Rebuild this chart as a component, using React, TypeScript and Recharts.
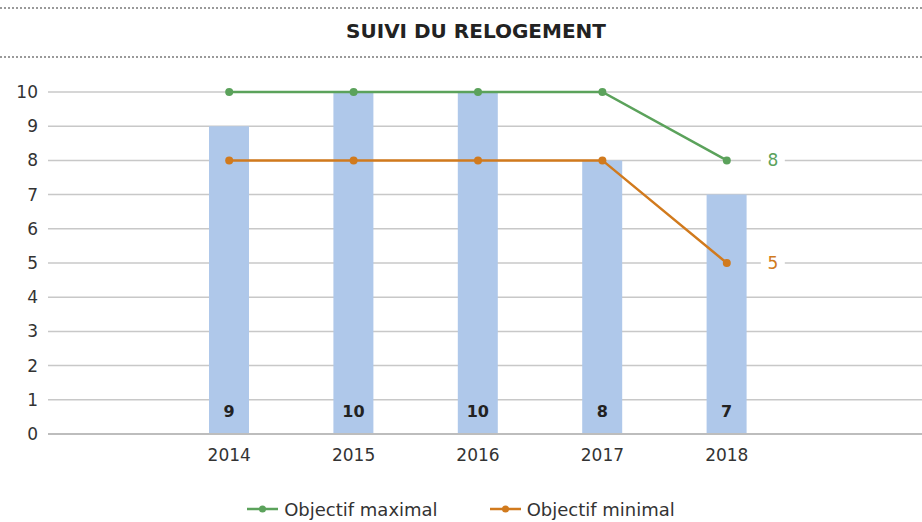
import React from 'react';
import { ComposedChart, Bar, Line, XAxis, YAxis, CartesianGrid, LabelList, Legend } from 'recharts';

const years = ['2014', '2015', '2016', '2017', '2018'];
const relogements = [9, 10, 10, 8, 7];
const objectifMax = [10, 10, 10, 10, 8];
const objectifMin = [8, 8, 8, 8, 5];
const yTicks = [0, 1, 2, 3, 4, 5, 6, 7, 8, 9, 10];
const title = 'SUIVI DU RELOGEMENT';
const seriesNames = { max: 'Objectif maximal', min: 'Objectif minimal' };

const data = years.map((y, i) => ({
  year: y,
  relogements: relogements[i],
  max: objectifMax[i],
  min: objectifMin[i],
}));

const FONT = '"DejaVu Sans", "Noto Sans", sans-serif';
const GREEN = '#5BA25B';
const ORANGE = '#D17A1D';
const BAR = '#AFC8EA';
const TEXT = '#333333';

const BarBottomLabel = (props: any) => {
  const { x, y, width, height, value } = props;
  return (
    <text x={x + width / 2} y={y + height - 23} textAnchor="middle" dominantBaseline="central"
      fontFamily={FONT} fontWeight={700} fontSize={16} fill="#222">
      {value}
    </text>
  );
};

const makeEndLabel = (color: string) => (props: any) => {
  const { x, y, value, index } = props;
  if (index !== years.length - 1) return null;
  const cx = x + 46;
  return (
    <g>
      <rect x={cx - 12} y={y - 10} width={24} height={20} fill="#fff" />
      <text x={cx} y={y} textAnchor="middle" dominantBaseline="central"
        fontFamily={FONT} fontSize={17} fill={color}>
        {value}
      </text>
    </g>
  );
};

const CustomLegend = () => {
  const items = [
    { name: seriesNames.max, color: GREEN },
    { name: seriesNames.min, color: ORANGE },
  ];
  return (
    <div style={{ display: 'flex', justifyContent: 'center', alignItems: 'center', height: 26 }}>
      {items.map((it, i) => (
        <div key={i} style={{ display: 'flex', alignItems: 'center', marginLeft: i === 0 ? 0 : 52 }}>
          <svg width={31} height={10} style={{ marginRight: 6 }}>
            <line x1={0} y1={5} x2={31} y2={5} stroke={it.color} strokeWidth={2.5} />
            <circle cx={15.5} cy={5} r={3.5} fill={it.color} />
          </svg>
          <span style={{ fontFamily: FONT, fontSize: 18, color: TEXT }}>{it.name}</span>
        </div>
      ))}
    </div>
  );
};

const dotted: React.CSSProperties = {
  position: 'absolute',
  left: 0,
  width: 922,
  height: 0,
  borderTop: '2px dotted #9a9a9a',
};

export default function App() {
  return (
    <div style={{ position: 'absolute', left: 0, top: 0, width: 922, height: 522, background: '#fff' }}>
      <div style={{ ...dotted, top: 7 }} />
      <div style={{
        position: 'absolute', top: 18, left: 0, width: 952, textAlign: 'center',
        fontFamily: FONT, fontWeight: 700, fontSize: 20, color: '#222', lineHeight: '26px',
      }}>{title}</div>
      <div style={{ ...dotted, top: 56 }} />
      <ComposedChart width={922} height={522} data={data}
        margin={{ top: 92, right: 0, bottom: 0, left: 0 }} barCategoryGap={0}>
        <CartesianGrid vertical={false} stroke="#c8c8c8" strokeWidth={1.5} />
        <XAxis dataKey="year" tickLine={false} tickSize={0} tickMargin={15} height={62}
          axisLine={{ stroke: '#bdbdbd', strokeWidth: 2 }}
          padding={{ left: 119, right: 133 }}
          tick={{ fontFamily: FONT, fontSize: 17, fill: TEXT }} />
        <YAxis domain={[0, 10]} ticks={yTicks} interval={0} width={48} axisLine={false}
          tickLine={false} tickSize={0} tickMargin={10}
          tick={{ fontFamily: FONT, fontSize: 17, fill: TEXT }} />
        <Legend verticalAlign="bottom" content={<CustomLegend />} />
        <Bar dataKey="relogements" fill={BAR} barSize={40} isAnimationActive={false} legendType="none">
          <LabelList dataKey="relogements" content={<BarBottomLabel />} />
        </Bar>
        <Line dataKey="max" name={seriesNames.max} stroke={GREEN} strokeWidth={2.5}
          dot={{ r: 4, fill: GREEN, stroke: GREEN, strokeWidth: 0 }} isAnimationActive={false}>
          <LabelList dataKey="max" content={makeEndLabel(GREEN)} />
        </Line>
        <Line dataKey="min" name={seriesNames.min} stroke={ORANGE} strokeWidth={2.5}
          dot={{ r: 4, fill: ORANGE, stroke: ORANGE, strokeWidth: 0 }} isAnimationActive={false}>
          <LabelList dataKey="min" content={makeEndLabel(ORANGE)} />
        </Line>
      </ComposedChart>
    </div>
  );
}
